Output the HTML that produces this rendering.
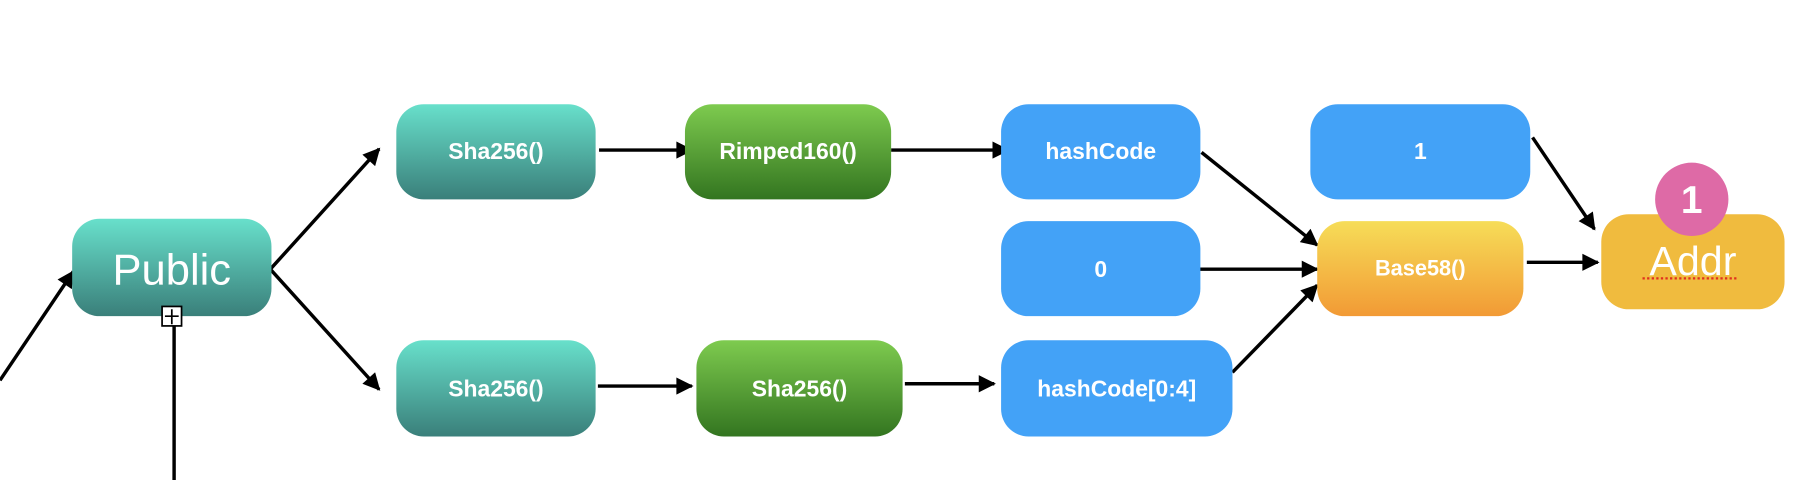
<!DOCTYPE html>
<html><head><meta charset="utf-8"><style>
html,body{margin:0;padding:0;background:#fff;width:1796px;height:480px;overflow:hidden}
svg{display:block}
text{font-family:"Liberation Sans",Arial,sans-serif;fill:#fff;text-anchor:middle;dominant-baseline:central}
.s{font-weight:600}
</style></head><body>
<svg width="1796" height="480" viewBox="0 0 1568 419" preserveAspectRatio="none">
<defs>
<linearGradient id="teal" x1="0" y1="0" x2="0" y2="1"><stop offset="0" stop-color="#68e0cb"/><stop offset="1" stop-color="#3a7f7a"/></linearGradient>
<linearGradient id="green" x1="0" y1="0" x2="0" y2="1"><stop offset="0" stop-color="#7ecb4f"/><stop offset="1" stop-color="#337520"/></linearGradient>
<linearGradient id="orange" x1="0" y1="0" x2="0" y2="1"><stop offset="0" stop-color="#f6dd58"/><stop offset="1" stop-color="#f29a35"/></linearGradient>
<marker id="b" viewBox="0 0 10 10" markerWidth="18" markerHeight="15" refX="9" refY="5" orient="auto" markerUnits="userSpaceOnUse"><path d="M0,0 L10,5 L0,10 Z" fill="#000"/></marker>
</defs>
<g stroke="#000" stroke-width="3" fill="none">
<line x1="0" y1="332" x2="64" y2="237" marker-end="url(#b)"/>
<line x1="152" y1="284" x2="152" y2="419"/>
<line x1="236" y1="235" x2="331" y2="130" marker-end="url(#b)"/>
<line x1="236" y1="235" x2="331" y2="340" marker-end="url(#b)"/>
<line x1="523" y1="131" x2="604" y2="131" marker-end="url(#b)"/>
<line x1="778" y1="131" x2="880" y2="131" marker-end="url(#b)"/>
<line x1="1049" y1="133" x2="1150" y2="214" marker-end="url(#b)"/>
<line x1="1046" y1="235" x2="1150" y2="235" marker-end="url(#b)"/>
<line x1="1076" y1="325" x2="1150" y2="249" marker-end="url(#b)"/>
<line x1="1338" y1="120" x2="1392" y2="200" marker-end="url(#b)"/>
<line x1="1333" y1="229" x2="1395" y2="229" marker-end="url(#b)"/>
<line x1="522" y1="337" x2="604" y2="337" marker-end="url(#b)"/>
<line x1="790" y1="335" x2="868" y2="335" marker-end="url(#b)"/>
</g>
<rect x="63" y="191" width="174" height="85" rx="24" fill="url(#teal)"/>
<text x="150" y="236" font-size="38">Public</text>
<rect x="141.5" y="267.5" width="17" height="17" fill="#fff" stroke="#000" stroke-width="1.5"/>
<path d="M144,276 H156 M150,270 V283" stroke="#000" stroke-width="1.5"/>
<rect x="346" y="91" width="174" height="83" rx="24" fill="url(#teal)"/>
<text class="s" x="433" y="132" font-size="20">Sha256()</text>
<rect x="346" y="297" width="174" height="84" rx="24" fill="url(#teal)"/>
<text class="s" x="433" y="339" font-size="20">Sha256()</text>
<rect x="598" y="91" width="180" height="83" rx="24" fill="url(#green)"/>
<text class="s" x="688" y="132" font-size="20">Rimped160()</text>
<rect x="608" y="297" width="180" height="84" rx="24" fill="url(#green)"/>
<text class="s" x="698" y="339" font-size="20">Sha256()</text>
<rect x="874" y="91" width="174" height="83" rx="24" fill="#43a2f7"/>
<text class="s" x="961" y="132" font-size="20">hashCode</text>
<rect x="874" y="193" width="174" height="83" rx="24" fill="#43a2f7"/>
<text class="s" x="961" y="235" font-size="20">0</text>
<rect x="874" y="297" width="202" height="84" rx="24" fill="#43a2f7"/>
<text class="s" x="975" y="339" font-size="20">hashCode[0:4]</text>
<rect x="1144" y="91" width="192" height="83" rx="24" fill="#43a2f7"/>
<text class="s" x="1240" y="132" font-size="20">1</text>
<rect x="1150" y="193" width="180" height="83" rx="24" fill="url(#orange)"/>
<text class="s" x="1240" y="234" font-size="19">Base58()</text>
<rect x="1398" y="187" width="160" height="83" rx="24" fill="#f0bb3e"/>
<text x="1478" y="228" font-size="36">Addr</text>
<line x1="1434" y1="243" x2="1518" y2="243" stroke="#e0301e" stroke-width="2" stroke-dasharray="2,2"/>
<circle cx="1477" cy="174" r="32" fill="#de6aa6"/>
<text x="1477" y="175" font-size="34" font-weight="bold">1</text>
</svg>
</body></html>
